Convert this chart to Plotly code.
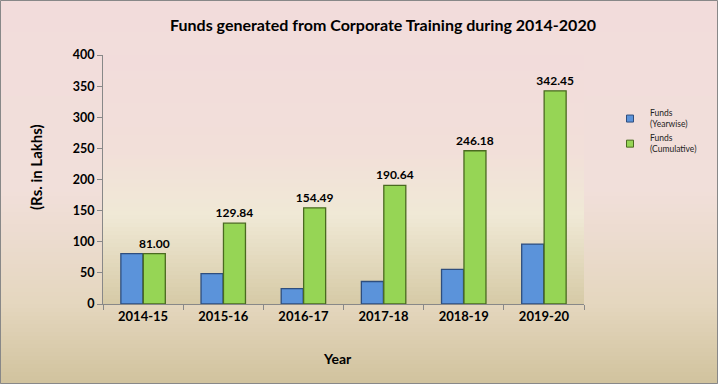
import plotly.graph_objects as go

years = ["2014-15", "2015-16", "2016-17", "2017-18", "2018-19", "2019-20"]
yearwise = [81.00, 48.84, 24.65, 36.15, 55.54, 96.27]
cumulative = [81.00, 129.84, 154.49, 190.64, 246.18, 342.45]
cum_labels = ["81.00", "129.84", "154.49", "190.64", "246.18", "342.45"]
legend_names = ["Funds<br>(Yearwise)", "Funds<br>(Cumulative)"]

W, H = 718, 384
ml, mr, mt, mb = 103, 134, 55, 80
pw = W - ml - mr
ph = H - mt - mb

blue, blue_edge = "#5B93DA", "#2E4E7E"
green, green_edge = "#96D555", "#4A6A20"

fig = go.Figure()
fig.add_trace(go.Bar(
    x=years, y=yearwise, name=legend_names[0], showlegend=False,
    marker=dict(color=blue, line=dict(color=blue_edge, width=1.3)),
))
fig.add_trace(go.Bar(
    x=years, y=cumulative, name=legend_names[1], showlegend=False,
    marker=dict(color=green, line=dict(color=green_edge, width=1.3)),
    text=cum_labels, textposition="outside", textangle=0, constraintext="none",
    textfont=dict(size=12, color="#000000", family="Lato", weight="bold"),
    cliponaxis=False,
))
for nm, c, e in [(legend_names[0], blue, blue_edge), (legend_names[1], green, green_edge)]:
    fig.add_trace(go.Scatter(
        x=[None], y=[None], mode="markers", name=nm,
        marker=dict(symbol="square", size=7, color=c, line=dict(color=e, width=1)),
    ))


def px_to_paper_y(py):
    return (H - mb - py) / ph


def px_to_paper_x(px):
    return (px - ml) / pw


def interp(stops, y):
    for (y0, c0), (y1, c1) in zip(stops, stops[1:]):
        if y0 <= y <= y1:
            t = (y - y0) / (y1 - y0) if y1 > y0 else 0
            return tuple(round(c0[k] + (c1[k] - c0[k]) * t) for k in range(3))
    return stops[-1][1]


def gradient(x0px, x1px, y0px, y1px, stops, step=4):
    out = []
    y = y0px
    while y < y1px:
        yb = min(y + step, y1px)
        c = interp(stops, (y + yb) / 2)
        out.append(dict(type="rect", xref="paper", yref="paper",
                        x0=px_to_paper_x(x0px), x1=px_to_paper_x(x1px),
                        y0=px_to_paper_y(yb + 0.5), y1=px_to_paper_y(y),
                        fillcolor="rgb(%d,%d,%d)" % c, line=dict(width=0), layer="below"))
        y = yb
    return out


outer_stops = [(0, (242, 220, 219)), (190, (241, 223, 218)), (300, (229, 215, 192)), (384, (209, 195, 157))]
inner_stops = [(55, (242, 220, 219)), (150, (242, 223, 217)), (215, (240, 233, 214)), (304, (214, 202, 166))]

shapes = gradient(0, W, 0, H, outer_stops) + gradient(ml, W - mr, mt, H - mb, inner_stops)
shapes.append(dict(type="rect", xref="paper", yref="paper",
                   x0=px_to_paper_x(0.5), x1=px_to_paper_x(W - 0.5),
                   y0=px_to_paper_y(H - 0.5), y1=px_to_paper_y(0.5),
                   line=dict(color="#888888", width=1), layer="above"))

fig.update_layout(
    width=W, height=H,
    margin=dict(l=ml, r=mr, t=mt, b=mb, autoexpand=False),
    paper_bgcolor="rgba(0,0,0,0)",
    plot_bgcolor="rgba(0,0,0,0)",
    font=dict(family="Lato", color="#000000"),
    title=dict(text="<b>Funds generated from Corporate Training during 2014-2020</b>",
               x=383 / W, xanchor="center", y=1 - 25 / H, yanchor="middle",
               font=dict(size=16, family="Lato")),
    barmode="group", bargap=0.44, bargroupgap=0.02,
    showlegend=True,
    legend=dict(x=px_to_paper_x(610), y=px_to_paper_y(101), xanchor="left", yanchor="top",
                font=dict(size=8.5, color="#222222"), bgcolor="rgba(0,0,0,0)",
                itemwidth=30, tracegroupgap=1),
    shapes=shapes,
    annotations=[
        dict(text="<b>(Rs. in Lakhs)</b>", textangle=-90, xref="paper", yref="paper",
             x=px_to_paper_x(36), y=px_to_paper_y(167), xanchor="center", yanchor="middle",
             showarrow=False, font=dict(size=15)),
        dict(text="<b>Year</b>", xref="paper", yref="paper",
             x=px_to_paper_x(337), y=px_to_paper_y(358), xanchor="center", yanchor="middle",
             showarrow=False, font=dict(size=14)),
    ],
    xaxis=dict(
        automargin=False,
        showline=True, linecolor="#888888", linewidth=1,
        ticks="outside", tickson="boundaries", ticklen=5, tickcolor="#888888",
        tickfont=dict(size=13, weight="bold"),
    ),
    yaxis=dict(
        automargin=False,
        range=[0, 400], dtick=50, showgrid=False,
        showline=True, linecolor="#888888", linewidth=1,
        ticks="outside", ticklen=5, tickcolor="#888888",
        tickfont=dict(size=12.5, weight="bold"),
        zeroline=False,
    ),
)

fig.write_html("out.html", config={"displayModeBar": False},
               post_script="document.body.style.margin='0';document.body.style.overflow='hidden';")
